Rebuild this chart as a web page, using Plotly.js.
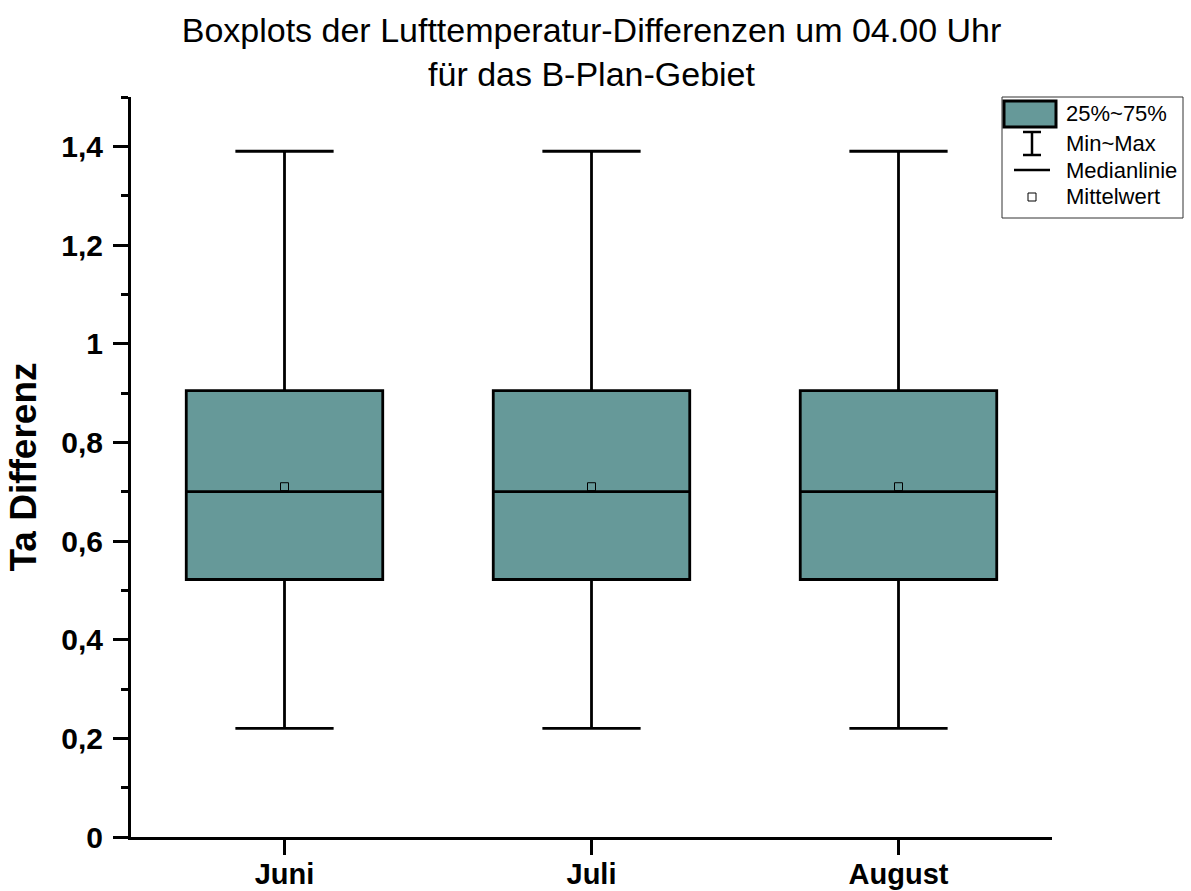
<!DOCTYPE html>
<html>
<head>
<meta charset="utf-8">
<script src="https://cdn.plot.ly/plotly-3.0.1.min.js"></script>
<style>
  html, body { margin: 0; padding: 0; background: #ffffff; }
  #chart { width: 1191px; height: 891px; }
</style>
</head>
<body>
<div id="chart"></div>
<script>
// ---- Data ----
const categories = ['Juni', 'Juli', 'August'];
const minVals    = [0.22, 0.22, 0.22];
const q1Vals     = [0.522, 0.522, 0.522];
const medianVals = [0.70, 0.70, 0.70];
const q3Vals     = [0.905, 0.905, 0.905];
const maxVals    = [1.39, 1.39, 1.39];
const meanVals   = [0.71, 0.71, 0.71];

const legendLabels = ['25%~75%', 'Min~Max', 'Medianlinie', 'Mittelwert'];

// ---- Style ----
const boxFill = '#669999';
const FONT = 'Liberation Sans, Arial, Helvetica, sans-serif';

// plot area in pixels (for placing the hand-built legend in paper coords)
const W = 1191, H = 891;
const M = { l: 131, r: 139, t: 97, b: 54 };
const plotW = W - M.l - M.r, plotH = H - M.t - M.b;
const px = x => (x - M.l) / plotW;
const py = y => (H - M.b - y) / plotH;

const boxTrace = {
  type: 'box',
  x: categories,
  q1: q1Vals,
  median: medianVals,
  q3: q3Vals,
  lowerfence: minVals,
  upperfence: maxVals,
  fillcolor: boxFill,
  line: { color: '#000000', width: 2.8 },
  width: 0.64,
  whiskerwidth: 0.5,
  boxpoints: false,
  hoverinfo: 'skip',
  showlegend: false
};

const meanTrace = {
  type: 'scatter',
  mode: 'markers',
  x: categories,
  y: meanVals,
  marker: { symbol: 'square-open', size: 8, color: '#000000', line: { width: 1, color: '#000000' } },
  hoverinfo: 'skip',
  showlegend: false
};

// ---- Hand-built legend (Origin style) ----
const shapes = [
  { type: 'rect', xref: 'paper', yref: 'paper', x0: px(1002), x1: px(1183), y0: py(97), y1: py(218),
    line: { color: '#333333', width: 1 }, fillcolor: 'rgba(255,255,255,1)', layer: 'above' },
  { type: 'rect', xref: 'paper', yref: 'paper', x0: px(1004), x1: px(1056), y0: py(101), y1: py(127),
    line: { color: '#000000', width: 3 }, fillcolor: boxFill, layer: 'above' },
  { type: 'line', xref: 'paper', yref: 'paper', x0: px(1032), x1: px(1032), y0: py(132), y1: py(155),
    line: { color: '#000000', width: 2.5 }, layer: 'above' },
  { type: 'line', xref: 'paper', yref: 'paper', x0: px(1023), x1: px(1041), y0: py(132), y1: py(132),
    line: { color: '#000000', width: 2.5 }, layer: 'above' },
  { type: 'line', xref: 'paper', yref: 'paper', x0: px(1023), x1: px(1041), y0: py(155), y1: py(155),
    line: { color: '#000000', width: 2.5 }, layer: 'above' },
  { type: 'line', xref: 'paper', yref: 'paper', x0: px(1014), x1: px(1050), y0: py(170), y1: py(170),
    line: { color: '#000000', width: 2.5 }, layer: 'above' },
  { type: 'rect', xref: 'paper', yref: 'paper', x0: px(1028), x1: px(1036), y0: py(193), y1: py(201),
    line: { color: '#000000', width: 1 }, fillcolor: '#ffffff', layer: 'above' }
];

const legendY = [114, 143, 170, 197];
const annotations = legendLabels.map((t, i) => ({
  text: t, xref: 'paper', yref: 'paper', x: px(1064), y: py(legendY[i]),
  xanchor: 'left', yanchor: 'middle', showarrow: false,
  font: { family: FONT, size: 22, color: '#000000' }
}));

const layout = {
  width: W, height: H,
  margin: M,
  paper_bgcolor: '#ffffff',
  plot_bgcolor: '#ffffff',
  separators: ',.',
  showlegend: false,
  font: { family: FONT, color: '#000000' },
  title: {
    text: 'Boxplots der Lufttemperatur-Differenzen um 04.00 Uhr<br>für das B-Plan-Gebiet',
    font: { family: FONT, size: 34, color: '#000000' },
    xref: 'paper', x: 0.5, xanchor: 'center',
    yref: 'container', y: 0.953, yanchor: 'top'
  },
  xaxis: {
    type: 'category',
    range: [-0.5, 2.5],
    showline: true, linecolor: '#000000', linewidth: 3,
    ticks: 'outside', ticklen: 15, tickwidth: 3, tickcolor: '#000000',
    tickfont: { family: FONT, size: 29, weight: 'bold', color: '#000000' },
    ticklabelstandoff: -6,
    showgrid: false, zeroline: false, fixedrange: true
  },
  yaxis: {
    range: [0, 1.5],
    tick0: 0, dtick: 0.2,
    showline: true, linecolor: '#000000', linewidth: 3,
    ticks: 'outside', ticklen: 15, tickwidth: 3, tickcolor: '#000000',
    minor: { ticks: 'outside', dtick: 0.1, tick0: 0, ticklen: 7, tickwidth: 3, tickcolor: '#000000', showgrid: false },
    tickfont: { family: FONT, size: 30, weight: 'bold', color: '#000000' },
    ticklabelstandoff: 4,
    title: { text: 'Ta Differenz', font: { family: FONT, size: 37, weight: 'bold', color: '#000000' }, standoff: 14 },
    showgrid: false, zeroline: false, fixedrange: true
  },
  shapes: shapes,
  annotations: annotations
};

Plotly.newPlot('chart', [boxTrace, meanTrace], layout, { displayModeBar: false, staticPlot: true });
</script>
</body>
</html>
